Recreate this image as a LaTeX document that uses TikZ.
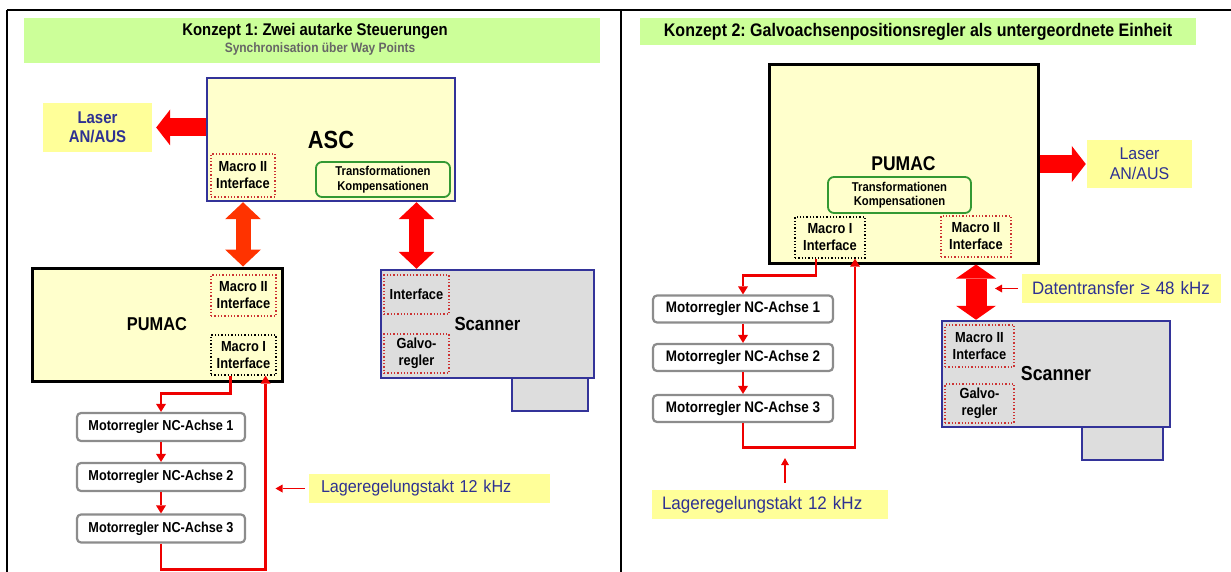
\documentclass[tikz,border=0pt]{standalone}
\usepackage{fontspec}
\setmainfont{Liberation Sans}[FakeStretch=0.88]
\newfontfamily\notefont{Liberation Sans}[FakeStretch=0.94]
\usetikzlibrary{arrows.meta}
\definecolor{bandgreen}{HTML}{CCFF99}
\definecolor{boxyellow}{HTML}{FFFFCC}
\definecolor{labelyellow}{HTML}{FFFF99}
\definecolor{scangray}{HTML}{DDDDDD}
\definecolor{navy}{HTML}{333399}
\definecolor{labelblue}{HTML}{2E3192}
\definecolor{trafogreen}{HTML}{339933}
\definecolor{dotred}{HTML}{CC3333}
\definecolor{flowred}{HTML}{EE0000}
\definecolor{busorange}{HTML}{FF3300}
\frenchspacing
\begin{document}
\begin{tikzpicture}[x=1pt,y=-1pt]
\tikzset{frame/.style = {line width=2.5pt}}
\tikzset{band/.style = {fill=bandgreen, inner sep=0pt}}
\tikzset{unit/.style = {draw=navy, line width=2.5pt, fill=boxyellow, inner sep=0pt}}
\tikzset{scan/.style = {draw=navy, line width=2.5pt, fill=scangray, inner sep=0pt, font=\bfseries\fontsize{19}{21}\selectfont}}
\tikzset{macro/.style = {draw=dotred, dotted, line width=1.3pt, inner sep=0pt, align=center, minimum width=65pt, minimum height=41pt, font=\bfseries\fontsize{14.6}{17}\selectfont}}
\tikzset{trafo/.style = {draw=trafogreen, line width=1.8pt, rounded corners=6pt, fill=boxyellow, inner sep=0pt, align=center, font=\bfseries\fontsize{12.8}{14.5}\selectfont}}
\tikzset{motor/.style = {draw=gray!90, line width=2.2pt, rounded corners=4pt, fill=white, inner sep=0pt, font=\bfseries\fontsize{14.4}{16}\selectfont}}
\tikzset{note/.style = {fill=labelyellow, text=labelblue, inner sep=0pt, align=center}}
\tikzset{flow/.style = {flowred, line width=2.8pt, -{Triangle[width=10pt,length=8pt,line width=0pt]}}}
\tikzset{tick/.style = {flowred, line width=1.8pt, -{Triangle[width=8pt,length=7pt,line width=0pt]}}}
\tikzset{beam/.style = {red, line width=18pt, -{Triangle[width=36pt,length=14pt,line width=0pt]}}}
\tikzset{bus/.style = {line width=15pt, {Triangle[width=36pt,length=17pt,line width=0pt]}-{Triangle[width=36pt,length=17pt,line width=0pt]}}}
\tikzset{bus2/.style = {red, line width=21pt, {Triangle[width=40pt,length=14pt,line width=0pt]}-{Triangle[width=40pt,length=14pt,line width=0pt]}}}
\useasboundingbox (0,0) rectangle (1231,572);
\draw[frame] (7,10) -- (1231,10);
\draw[frame] (7,10) -- (7,572);
\draw[frame] (621,10) -- (621,572);
\node[band, minimum width=576pt, minimum height=45pt] (band1) at (312,40.5) {};
\node[font=\bfseries\fontsize{16.9}{18}\selectfont] (title1) at (315,31) {Konzept 1: Zwei autarke Steuerungen};
\node[font=\bfseries\fontsize{13.6}{15}\selectfont, text=gray!80!black] (sub1) at (320,49) {Synchronisation über Way Points};
\node[unit, minimum width=248pt, minimum height=123pt, font=\bfseries\fontsize{24.8}{27}\selectfont] (asc) at (331,139.5) {ASC};
\node[macro, minimum width=64pt, minimum height=43pt] (ascm) at (243,175.5) {Macro II\\Interface};
\node[trafo, minimum width=134pt, minimum height=35pt] (asct) at (383,179.5) {Transformationen\\Kompensationen};
\node[note, minimum width=109pt, minimum height=49pt, font=\bfseries\fontsize{17}{19}\selectfont] (laser1) at (97.5,127.5) {Laser\\AN/AUS};
\draw[beam] (asc.west |- laser1.east) -- ([xshift=4pt]laser1.east);
\node[unit, draw=black, line width=3pt, minimum width=250pt, minimum height=113pt, font=\bfseries\fontsize{18.6}{20}\selectfont] (pumac1) at (157,324.5) {PUMAC};
\node[macro] (pm1ii) at (243.5,295.5) {Macro II\\Interface};
\node[macro, draw=black, minimum height=40pt] (pm1i) at (243.5,355) {Macro I\\Interface};
\node[scan, minimum width=76pt, minimum height=33pt] (foot1) at (550,394.5) {};
\node[scan, minimum width=213pt, minimum height=108pt] (scanner1) at (487.5,324) {Scanner};
\node[macro, minimum height=39pt] (sc1if) at (416.5,294.5) {Interface};
\node[macro, minimum height=39pt] (sc1g) at (416.5,353.5) {Galvo-\\regler};
\draw[bus, busorange] (asc.south -| ascm) -- (pumac1.north -| ascm);
\draw[bus, red] (asc.south -| sc1if) -- (scanner1.north -| sc1if);
\node[motor, minimum width=168pt, minimum height=28pt] (m11) at (161,427) {Motorregler NC-Achse 1};
\node[motor, minimum width=168pt, minimum height=28pt] (m12) at (161,477) {Motorregler NC-Achse 2};
\node[motor, minimum width=168pt, minimum height=28pt] (m13) at (161,528.5) {Motorregler NC-Achse 3};
\coordinate (ret1) at ([xshift=22pt]pm1i.south);
\draw[flow] ([xshift=-13pt]pm1i.south) -- ++(0,18) -| (m11.north);
\draw[flow] (m11.south) -- (m12.north);
\draw[flow] (m12.south) -- (m13.north);
\draw[flow] (m13.south) -- ++(0,26) -| (ret1);
\node[note, align=left, text width=217pt, inner xsep=12pt, minimum height=29pt, font=\notefont\fontsize{17.2}{19}\selectfont] (lage1) at (429.5,488.5) {Lageregelungstakt 12 kHz};
\draw[tick, shorten <=4pt, shorten >=10pt] (lage1.west) -- (lage1.west -| ret1);
\node[band, minimum width=556pt, minimum height=27pt, font=\bfseries\fontsize{18.2}{20}\selectfont] (band2) at (918,31.5) {Konzept 2: Galvoachsenpositionsregler als untergeordnete Einheit};
\node[unit, draw=black, line width=3pt, minimum width=269pt, minimum height=198pt, font=\bfseries\fontsize{19.9}{22}\selectfont] (pumac2) at (903.5,164) {PUMAC};
\node[trafo, minimum width=143pt, minimum height=36pt] (trafo2) at (899.5,195) {Transformationen\\Kompensationen};
\node[macro, draw=black, minimum width=70pt] (pm2i) at (830,237.5) {Macro I\\Interface};
\node[macro, minimum width=70pt] (pm2ii) at (976,236.5) {Macro II\\Interface};
\node[note, minimum width=105pt, minimum height=48pt, font=\notefont\fontsize{17}{20}\selectfont] (laser2) at (1139.5,164) {Laser\\AN/AUS};
\draw[beam] (pumac2.east |- laser2.west) -- ([xshift=-1pt]laser2.west);
\node[motor, minimum width=180pt, minimum height=27pt, font=\bfseries\fontsize{15.3}{17}\selectfont] (m21) at (743,309) {Motorregler NC-Achse 1};
\node[motor, minimum width=180pt, minimum height=27pt, font=\bfseries\fontsize{15.3}{17}\selectfont] (m22) at (743,357.5) {Motorregler NC-Achse 2};
\node[motor, minimum width=180pt, minimum height=27pt, font=\bfseries\fontsize{15.3}{17}\selectfont] (m23) at (743,408.5) {Motorregler NC-Achse 3};
\coordinate (ret2) at ([xshift=25pt]pm2i.south);
\draw[flow] ([xshift=-14pt]pm2i.south) -- ++(0,17) -| (m21.north);
\draw[flow] (m21.south) -- (m22.north);
\draw[flow] (m22.south) -- (m23.north);
\draw[flow] (m23.south) -- ++(0,24) coordinate (loop2) -| (ret2);
\node[note, align=left, text width=216pt, inner xsep=10pt, minimum height=29pt, font=\notefont\fontsize{18.1}{20}\selectfont] (lage2) at (770,504.5) {Lageregelungstakt 12 kHz};
\draw[tick, shorten <=7pt, shorten >=11pt] ([xshift=15pt]lage2.north) -- ([xshift=15pt]lage2.north |- loop2);
\node[scan, minimum width=81pt, minimum height=33pt] (foot2) at (1122.5,443.5) {};
\node[scan, minimum width=228pt, minimum height=106pt, font=\bfseries\fontsize{20.2}{22}\selectfont] (scanner2) at (1056,374) {Scanner};
\node[macro, minimum width=69pt, minimum height=42pt] (sc2ii) at (979.5,346) {Macro II\\Interface};
\node[macro, minimum width=69pt, minimum height=39pt] (sc2g) at (979.5,403.5) {Galvo-\\regler};
\draw[bus2] (pumac2.south -| pm2ii) -- (scanner2.north -| pm2ii);
\node[note, align=left, text width=179pt, inner xsep=10pt, minimum height=29pt, font=\notefont\fontsize{18}{20}\selectfont] (dt) at (1121.5,288.5) {Datentransfer ≥ 48 kHz};
\draw[tick, shorten <=4pt, shorten >=19pt] (dt.west) -- (dt.west -| pm2ii);
\end{tikzpicture}
\end{document}
